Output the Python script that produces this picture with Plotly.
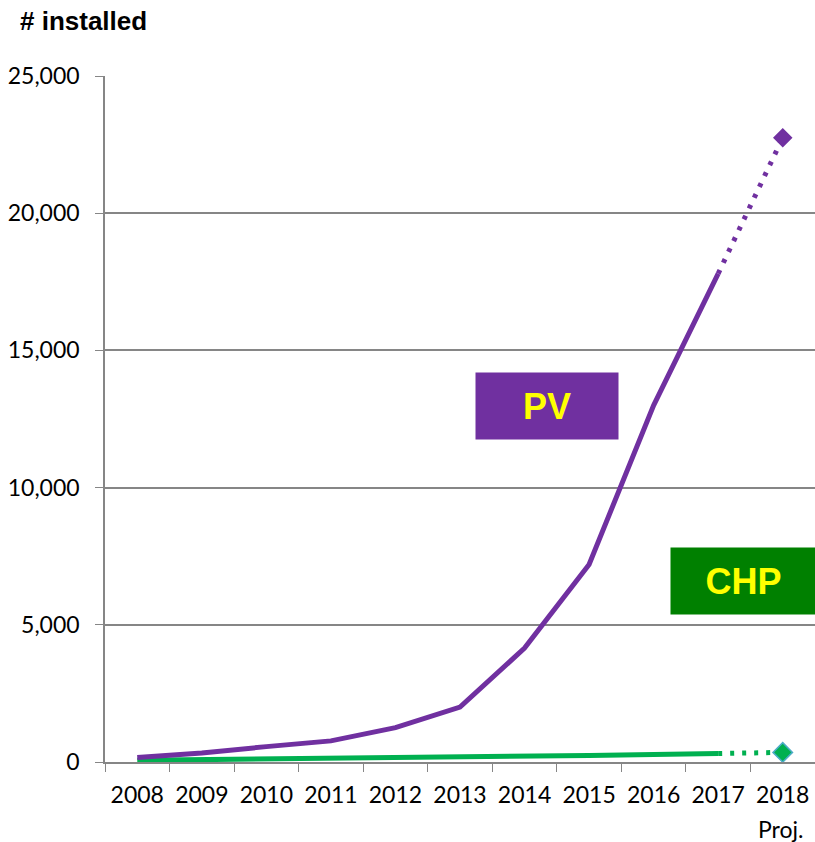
import plotly.graph_objects as go

years = ["2008", "2009", "2010", "2011", "2012", "2013", "2014", "2015", "2016", "2017", "2018"]
pv = [160, 330, 560, 770, 1250, 2000, 4150, 7200, 13000, 17800, 22750]
chp = [60, 80, 100, 120, 150, 180, 210, 240, 270, 310, 350]

purple = "#7030A0"
green = "#00B050"
axis_grey = "#868686"
label_font = "Liberation Sans, Arial, sans-serif"

fig = go.Figure()
# actual values (solid) up to 2017
fig.add_scatter(x=years[:10], y=chp[:10], mode="lines",
                line=dict(color=green, width=5), hoverinfo="skip")
fig.add_scatter(x=years[:10], y=pv[:10], mode="lines",
                line=dict(color=purple, width=5), hoverinfo="skip")
# projection (dotted) 2017 -> 2018
fig.add_scatter(x=years[9:], y=chp[9:], mode="lines",
                line=dict(color=green, width=5, dash="4px,8px"))
fig.add_scatter(x=years[9:], y=pv[9:], mode="lines",
                line=dict(color=purple, width=5, dash="4px,8px"))
fig.add_scatter(x=years[10:], y=chp[10:], mode="markers",
                marker=dict(symbol="diamond", size=15, color=green,
                            line=dict(color="#4BACC6", width=1.5)))
fig.add_scatter(x=years[10:], y=pv[10:], mode="markers",
                marker=dict(symbol="diamond", size=15, color=purple))

fig.update_layout(
    width=815, height=842,
    margin=dict(l=105, r=0, t=76, b=80),
    plot_bgcolor="white", paper_bgcolor="white",
    showlegend=False,
    font=dict(family="Lato, Open Sans, sans-serif", size=23, color="black"),
    xaxis=dict(type="category", tickson="boundaries", ticks="outside",
               ticklen=8, tickcolor=axis_grey, showline=True, linecolor=axis_grey,
               linewidth=1.5, showgrid=False, range=[-0.5, 10.5],
               ticklabelstandoff=12),
    yaxis=dict(range=[0, 25000], dtick=5000, tickformat=",", ticks="outside",
               ticklen=8, tickcolor=axis_grey, showline=True, linecolor=axis_grey,
               linewidth=1.5, showgrid=True, gridcolor=axis_grey, gridwidth=1.5,
               zeroline=False, ticklabelstandoff=11),
    annotations=[
        dict(text="<b># installed</b>", xref="paper", yref="paper",
             x=-0.123, y=1.0, yshift=55, xanchor="left", yanchor="middle",
             showarrow=False, font=dict(family=label_font, size=26)),
        dict(text="Proj.", xref="paper", yref="paper", x=1.0, y=0, xshift=-10,
             yshift=-67, xanchor="right", yanchor="middle", showarrow=False),
        dict(text="<b>PV</b>", xref="paper", yref="paper", x=0.6225, y=0.519,
             xanchor="center", yanchor="middle",
             width=140, height=64, bgcolor=purple, showarrow=False,
             font=dict(family=label_font, size=36, color="#FFFF00")),
        dict(text="<b>CHP</b>", xref="paper", yref="paper", x=0.899, y=0.2638,
             xanchor="center", yanchor="middle",
             width=143, height=64, bgcolor="#008000", showarrow=False,
             font=dict(family=label_font, size=36, color="#FFFF00")),
    ],
)

fig.write_html("out.html", config={"displayModeBar": False},
               post_script="document.body.style.margin='0';"
                           "document.body.style.overflow='hidden';")
